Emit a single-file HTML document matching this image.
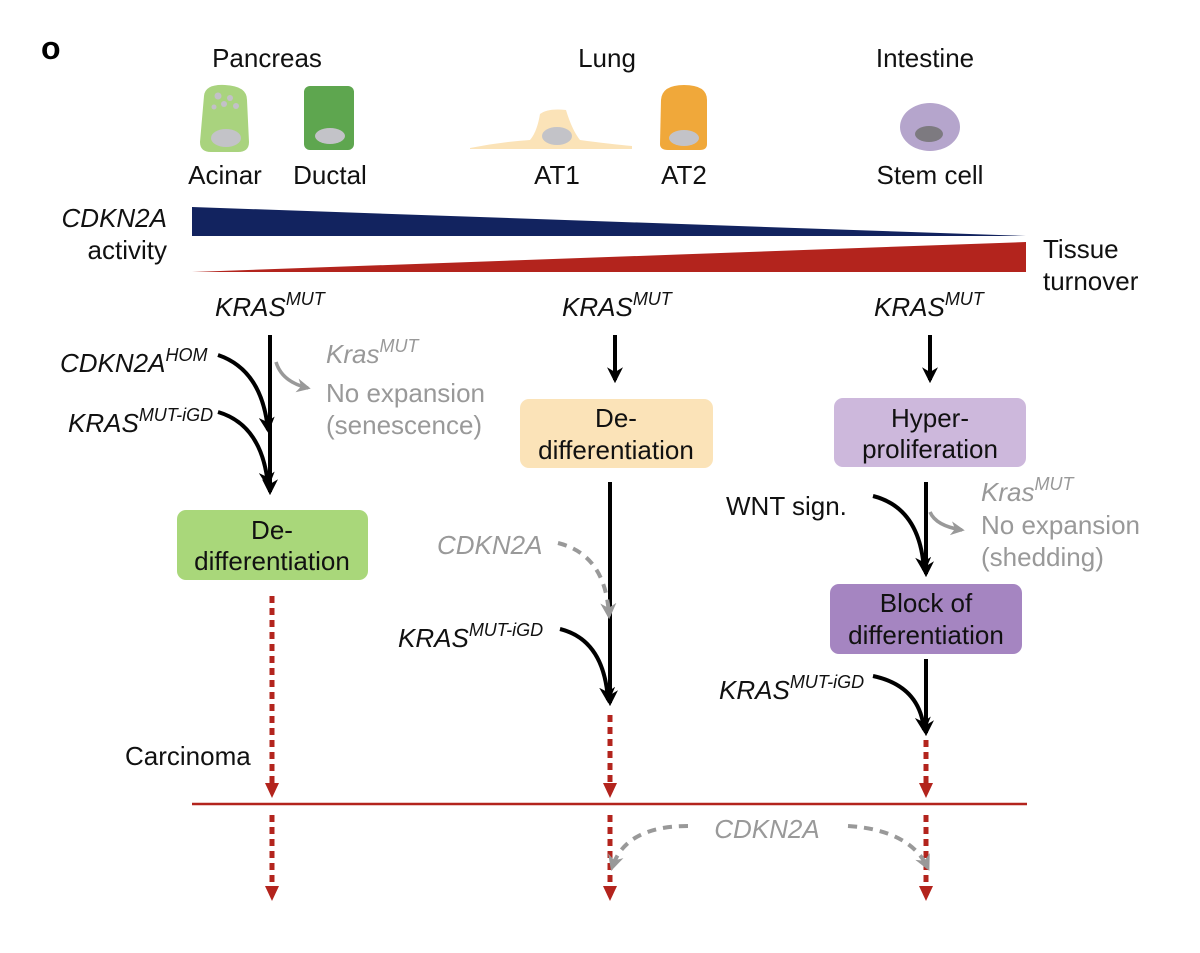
<!DOCTYPE html>
<html><head><meta charset="utf-8"><style>
html,body{margin:0;padding:0;background:#fff}
svg{display:block}
text{font-family:"Liberation Sans",Arial,sans-serif}
.h{font-size:26px;fill:#111}
.it{font-style:italic}
.g{fill:#999}
</style></head><body>
<svg width="1200" height="953" viewBox="0 0 1200 953" xmlns="http://www.w3.org/2000/svg">
<defs>
<marker id="ab" viewBox="0 0 10 10" refX="8" refY="5" markerWidth="4" markerHeight="4" orient="auto"><path d="M0,0 L10,5 L0,10 L3,5z" fill="#000"/></marker>
<marker id="ag" viewBox="0 0 10 10" refX="8" refY="5" markerWidth="4" markerHeight="4" orient="auto"><path d="M0,0 L10,5 L0,10 L3,5z" fill="#999"/></marker>
</defs>
<text x="41" y="59" font-size="32" font-weight="bold">o</text>
<text class="h" x="267" y="67" text-anchor="middle">Pancreas</text>
<text class="h" x="607" y="67" text-anchor="middle">Lung</text>
<text class="h" x="925" y="67" text-anchor="middle">Intestine</text>
<!-- cells -->
<path d="M204,96 Q205,84 225,85 Q247,86 247,100 L249,142 Q249,152 238,152 L211,152 Q200,152 200,142 Z" fill="#a9d37e"/>
<g fill="#c3c0c8"><circle cx="218" cy="96" r="3.5"/><circle cx="230" cy="98" r="3"/><circle cx="236" cy="106" r="3"/><circle cx="224" cy="104" r="3"/><circle cx="214" cy="107" r="2.5"/></g>
<ellipse cx="226" cy="138" rx="15" ry="9" fill="#c3c3c8"/>
<rect x="304" y="86" width="50" height="64" rx="6" fill="#5ea64f"/>
<ellipse cx="330" cy="136" rx="15" ry="8" fill="#c3c3c8"/>
<path d="M470,148 Q500,142 530,140 Q537,132 540,114 Q548,108 566,110 Q572,130 580,140 Q610,144 632,146 L632,149 L470,149Z" fill="#fbe3b8"/>
<ellipse cx="557" cy="136" rx="15" ry="9" fill="#c3c3c8"/>
<path d="M661,100 Q662,85 684,85 Q707,85 707,100 L707,144 Q707,150 700,150 L668,150 Q660,150 660,144 Z" fill="#f0a83a"/>
<ellipse cx="684" cy="138" rx="15" ry="8" fill="#c3c3c8"/>
<ellipse cx="930" cy="127" rx="30" ry="24" fill="#b5a5cc"/>
<ellipse cx="929" cy="134" rx="14" ry="8" fill="#7d7a80"/>
<text class="h" x="225" y="184" text-anchor="middle">Acinar</text>
<text class="h" x="330" y="184" text-anchor="middle">Ductal</text>
<text class="h" x="557" y="184" text-anchor="middle">AT1</text>
<text class="h" x="684" y="184" text-anchor="middle">AT2</text>
<text class="h" x="930" y="184" text-anchor="middle">Stem cell</text>
<!-- wedges -->
<polygon points="192,207 192,236 1026,236" fill="#12235f"/>
<polygon points="192,272 1026,242 1026,272" fill="#b3241d"/>
<text class="h it" x="167" y="227" text-anchor="end">CDKN2A</text>
<text class="h" x="167" y="259" text-anchor="end">activity</text>
<text class="h" x="1043" y="258">Tissue</text>
<text class="h" x="1043" y="290">turnover</text>
<!-- KRAS labels -->
<text class="h it" x="215" y="316">KRAS<tspan dy="-11" font-size="18">MUT</tspan></text>
<text class="h it" x="562" y="316">KRAS<tspan dy="-11" font-size="18">MUT</tspan></text>
<text class="h it" x="874" y="316">KRAS<tspan dy="-11" font-size="18">MUT</tspan></text>
<!-- left column -->
<line x1="270" y1="335" x2="270" y2="492" stroke="#000" stroke-width="4" marker-end="url(#ab)"/>
<path d="M218,355 Q262,370 268,430" fill="none" stroke="#000" stroke-width="4" marker-end="url(#ab)"/>
<path d="M218,412 Q262,425 268,485" fill="none" stroke="#000" stroke-width="4" marker-end="url(#ab)"/>
<path d="M276,362 Q282,382 308,388" fill="none" stroke="#999" stroke-width="3.5" marker-end="url(#ag)"/>
<text class="h it" x="60" y="372">CDKN2A<tspan dy="-11" font-size="18">HOM</tspan></text>
<text class="h it" x="68" y="432">KRAS<tspan dy="-11" font-size="18">MUT-iGD</tspan></text>
<text class="h it g" x="326" y="363">Kras<tspan dy="-11" font-size="18">MUT</tspan></text>
<text class="h g" x="326" y="402">No expansion</text>
<text class="h g" x="326" y="434">(senescence)</text>
<rect x="177" y="510" width="191" height="70" rx="9" fill="#a9d77a"/>
<text class="h" x="272" y="539" text-anchor="middle">De-</text>
<text class="h" x="272" y="570" text-anchor="middle">differentiation</text>
<!-- middle -->
<line x1="615" y1="335" x2="615" y2="380" stroke="#000" stroke-width="4" marker-end="url(#ab)"/>
<rect x="520" y="399" width="193" height="69" rx="9" fill="#fbe3b8"/>
<text class="h" x="616" y="427" text-anchor="middle">De-</text>
<text class="h" x="616" y="459" text-anchor="middle">differentiation</text>
<line x1="610" y1="482" x2="610" y2="703" stroke="#000" stroke-width="4" marker-end="url(#ab)"/>
<path d="M558,543 Q606,555 609,616" fill="none" stroke="#999" stroke-width="4" stroke-dasharray="9,7" marker-end="url(#ag)"/>
<text class="h it g" x="437" y="554">CDKN2A</text>
<path d="M560,629 Q604,640 608,700" fill="none" stroke="#000" stroke-width="4" marker-end="url(#ab)"/>
<text class="h it" x="398" y="647">KRAS<tspan dy="-11" font-size="18">MUT-iGD</tspan></text>
<!-- right -->
<line x1="930" y1="335" x2="930" y2="380" stroke="#000" stroke-width="4" marker-end="url(#ab)"/>
<rect x="834" y="398" width="192" height="69" rx="9" fill="#cdb8dc"/>
<text class="h" x="930" y="427" text-anchor="middle">Hyper-</text>
<text class="h" x="930" y="458" text-anchor="middle">proliferation</text>
<line x1="926" y1="482" x2="926" y2="574" stroke="#000" stroke-width="4" marker-end="url(#ab)"/>
<path d="M873,496 Q920,508 924,570" fill="none" stroke="#000" stroke-width="4" marker-end="url(#ab)"/>
<path d="M930,512 Q936,526 962,530" fill="none" stroke="#999" stroke-width="3.5" marker-end="url(#ag)"/>
<text class="h" x="726" y="515">WNT sign.</text>
<text class="h it g" x="981" y="501">Kras<tspan dy="-11" font-size="18">MUT</tspan></text>
<text class="h g" x="981" y="534">No expansion</text>
<text class="h g" x="981" y="566">(shedding)</text>
<rect x="830" y="584" width="192" height="70" rx="9" fill="#a585c1"/>
<text class="h" x="926" y="612" text-anchor="middle">Block of</text>
<text class="h" x="926" y="644" text-anchor="middle">differentiation</text>
<line x1="926" y1="659" x2="926" y2="733" stroke="#000" stroke-width="4" marker-end="url(#ab)"/>
<path d="M873,676 Q920,686 924,730" fill="none" stroke="#000" stroke-width="4" marker-end="url(#ab)"/>
<text class="h it" x="719" y="699">KRAS<tspan dy="-11" font-size="18">MUT-iGD</tspan></text>
<!-- red dashed -->
<g stroke="#b3241d" stroke-width="5" stroke-dasharray="7,5" fill="none">
<line x1="272" y1="596" x2="272" y2="785"/>
<line x1="272" y1="815" x2="272" y2="888"/>
<line x1="610" y1="715" x2="610" y2="785"/>
<line x1="610" y1="815" x2="610" y2="888"/>
<line x1="926" y1="740" x2="926" y2="785"/>
<line x1="926" y1="815" x2="926" y2="888"/>
</g>
<g fill="#b3241d">
<polygon points="265,783 279,783 272,798"/><polygon points="265,886 279,886 272,901"/>
<polygon points="603,783 617,783 610,798"/><polygon points="603,886 617,886 610,901"/>
<polygon points="919,783 933,783 926,798"/><polygon points="919,886 933,886 926,901"/>
</g>
<line x1="192" y1="804" x2="1027" y2="804" stroke="#b3241d" stroke-width="2.5"/>
<text class="h" x="125" y="765">Carcinoma</text>
<path d="M688,826 Q625,826 612,868" fill="none" stroke="#999" stroke-width="4" stroke-dasharray="9,7" marker-end="url(#ag)"/>
<path d="M848,826 Q910,830 928,868" fill="none" stroke="#999" stroke-width="4" stroke-dasharray="9,7" marker-end="url(#ag)"/>
<text class="h it g" x="767" y="838" text-anchor="middle">CDKN2A</text>
</svg>
</body></html>
